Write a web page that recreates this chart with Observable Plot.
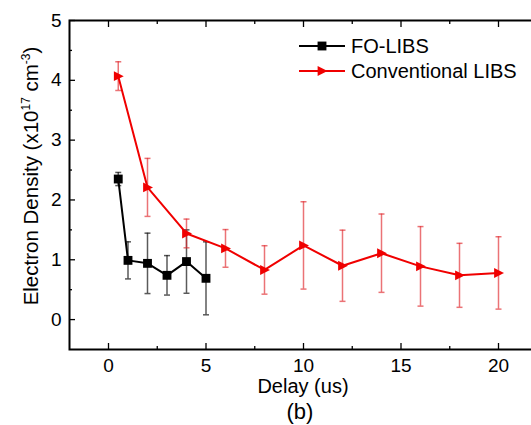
<!DOCTYPE html>
<html>
<head>
<meta charset="utf-8">
<script src="https://cdn.jsdelivr.net/npm/d3@7"></script>
<script src="https://cdn.jsdelivr.net/npm/@observablehq/plot@0.6"></script>
<style>
  html, body { margin: 0; padding: 0; background: #fff; overflow: hidden; }
  #chart { width: 531px; height: 425px; overflow: hidden; }
  #chart svg { max-width: none !important; }
</style>
</head>
<body>
<div id="chart"></div>
<script>
// ---- data ----
const seriesNames = ["FO-LIBS", "Conventional LIBS"];
const foDelay = [0.5, 1, 2, 3, 4, 5];
const foDensity = [2.35, 0.99, 0.94, 0.74, 0.97, 0.69];
const foError = [0.11, 0.31, 0.505, 0.33, 0.53, 0.61];
const convDelay = [0.5, 2, 4, 6, 8, 10, 12, 14, 16, 18, 20];
const convDensity = [4.07, 2.21, 1.44, 1.19, 0.83, 1.24, 0.90, 1.11, 0.89, 0.74, 0.78];
const convError = [0.24, 0.485, 0.24, 0.315, 0.405, 0.73, 0.595, 0.655, 0.665, 0.535, 0.605];
const xTicks = [0, 5, 10, 15, 20];
const xMinorTicks = [2.5, 7.5, 12.5, 17.5];
const yTicks = [0, 1, 2, 3, 4, 5];
const yMinorTicks = [0.5, 1.5, 2.5, 3.5, 4.5];

const fo = foDelay.map((x, i) => ({x, y: foDensity[i], lo: foDensity[i] - foError[i], hi: foDensity[i] + foError[i]}));
const conv = convDelay.map((x, i) => ({x, y: convDensity[i], lo: convDensity[i] - convError[i], hi: convDensity[i] + convError[i]}));

const RED = "#f00000";
const RED_ERR = "rgba(225,40,45,0.65)";
const BLK_ERR = "rgba(20,20,20,0.7)";

// custom symbols
const capSymbol = {draw(ctx, size) { const r = Math.sqrt(size / Math.PI); ctx.moveTo(-r, 0); ctx.lineTo(r, 0); }};
const triRight = {draw(ctx, size) { const r = Math.sqrt(size / Math.PI); ctx.moveTo(r, 0); ctx.lineTo(-0.8 * r, -0.9 * r); ctx.lineTo(-0.8 * r, 0.9 * r); ctx.closePath(); }};

const FONT = "'Liberation Sans', Arial, sans-serif";
const W = 540, H = 425;
const fmt = d => String(d);

const plot = Plot.plot({
  width: W,
  height: H,
  marginLeft: 69,
  marginRight: 3,
  marginTop: 20,
  marginBottom: 76,
  style: {fontFamily: FONT, fontSize: "19px", color: "#000", background: "#fff", overflow: "visible", maxWidth: "none"},
  x: {domain: [-2, 22]},
  y: {domain: [-0.5, 5]},
  marks: [
    // inward ticks
    Plot.axisX(xTicks, {anchor: "bottom", tickSize: 6, dy: -6, tickFormat: () => "", label: null, strokeWidth: 1.3}),
    Plot.axisX(xMinorTicks, {anchor: "bottom", tickSize: 3, dy: -3, tickFormat: () => "", label: null, strokeWidth: 1.3}),
    Plot.axisX(xTicks, {anchor: "top", tickSize: 6, dy: 6, tickFormat: () => "", label: null, strokeWidth: 1.3}),
    Plot.axisX(xMinorTicks, {anchor: "top", tickSize: 3, dy: 3, tickFormat: () => "", label: null, strokeWidth: 1.3}),
    Plot.axisY(yTicks, {anchor: "left", tickSize: 6, dx: 6, tickFormat: () => "", label: null, strokeWidth: 1.3}),
    Plot.axisY(yMinorTicks, {anchor: "left", tickSize: 3, dx: 3, tickFormat: () => "", label: null, strokeWidth: 1.3}),
    Plot.axisY(yTicks, {anchor: "right", tickSize: 6, dx: -6, tickFormat: () => "", label: null, strokeWidth: 1.3}),
    Plot.axisY(yMinorTicks, {anchor: "right", tickSize: 3, dx: -3, tickFormat: () => "", label: null, strokeWidth: 1.3}),
    // tick labels
    Plot.axisX(xTicks, {anchor: "bottom", tickSize: 0, tickPadding: 9, fontSize: 19, tickFormat: fmt, label: null}),
    Plot.axisY(yTicks, {anchor: "left", tickSize: 0, tickPadding: 8, fontSize: 19, tickFormat: fmt, label: null}),
    // error bars
    Plot.ruleX(fo, {x: "x", y1: "lo", y2: "hi", stroke: BLK_ERR, strokeWidth: 1.5}),
    Plot.dot(fo, {x: "x", y: "lo", symbol: capSymbol, r: 3, stroke: BLK_ERR, strokeWidth: 1.5, fill: "none"}),
    Plot.dot(fo, {x: "x", y: "hi", symbol: capSymbol, r: 3, stroke: BLK_ERR, strokeWidth: 1.5, fill: "none"}),
    Plot.ruleX(conv, {x: "x", y1: "lo", y2: "hi", stroke: RED_ERR, strokeWidth: 1.5}),
    Plot.dot(conv, {x: "x", y: "lo", symbol: capSymbol, r: 3, stroke: RED_ERR, strokeWidth: 1.5, fill: "none"}),
    Plot.dot(conv, {x: "x", y: "hi", symbol: capSymbol, r: 3, stroke: RED_ERR, strokeWidth: 1.5, fill: "none"}),
    // lines
    Plot.line(fo, {x: "x", y: "y", stroke: "#000", strokeWidth: 2}),
    Plot.line(conv, {x: "x", y: "y", stroke: RED, strokeWidth: 2}),
    // markers
    Plot.dot(fo, {x: "x", y: "y", symbol: "square", r: 5, fill: "#000", stroke: "none"}),
    Plot.dot(conv, {x: "x", y: "y", symbol: triRight, r: 5.5, fill: RED, stroke: "none"}),
    Plot.frame({stroke: "#000", strokeWidth: 2})
  ]
});

document.getElementById("chart").appendChild(plot);

// titles and legend
const svg = d3.select(plot);
svg.append("text")
  .attr("x", 303).attr("y", 393)
  .attr("text-anchor", "middle")
  .attr("font-size", 20).attr("font-family", FONT).attr("fill", "#000")
  .text("Delay (us)");
svg.append("text")
  .attr("x", 300).attr("y", 419)
  .attr("text-anchor", "middle")
  .attr("font-size", 22).attr("font-family", FONT).attr("fill", "#000")
  .text("(b)");

const yl = svg.append("text")
  .attr("transform", "translate(38,176) rotate(-90)")
  .attr("text-anchor", "middle")
  .attr("font-size", 20.5).attr("font-family", FONT).attr("fill", "#000");
yl.append("tspan").text("Electron Density (x10");
yl.append("tspan").attr("font-size", 12).attr("dy", -8).text("17");
yl.append("tspan").attr("dy", 8).text(" cm");
yl.append("tspan").attr("font-size", 12).attr("dy", -8).text("-3");
yl.append("tspan").attr("dy", 8).text(")");

const legendItems = [
  {name: seriesNames[0], color: "#000", sym: d3.symbolSquare, size: 5 * 5 * Math.PI, y: 46},
  {name: seriesNames[1], color: RED, sym: triRight, size: 5.5 * 5.5 * Math.PI, y: 71}
];
const lg = svg.append("g");
legendItems.forEach(it => {
  lg.append("line").attr("x1", 299).attr("x2", 345).attr("y1", it.y).attr("y2", it.y)
    .attr("stroke", it.color).attr("stroke-width", 2);
  lg.append("path").attr("d", d3.symbol(it.sym, it.size)())
    .attr("transform", `translate(322,${it.y})`).attr("fill", it.color);
  lg.append("text").attr("x", 351).attr("y", it.y + 7)
    .attr("text-anchor", "start")
    .attr("font-size", 20).attr("font-family", FONT).attr("fill", "#000")
    .text(it.name);
});
</script>
</body>
</html>
